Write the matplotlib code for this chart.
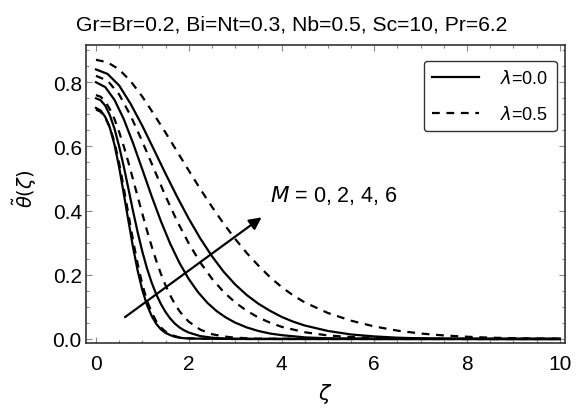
import numpy as np
import matplotlib
matplotlib.use("Agg")
import matplotlib.pyplot as plt
from matplotlib.ticker import MultipleLocator

plt.rcParams["font.family"] = ["Liberation Sans", "DejaVu Sans"]
plt.rcParams["mathtext.fontset"] = "dejavusans"

# ── data ──────────────────────────────────────────────────────────────────
# M = 0 (solid and dashed almost on top of each other)
x_m0 = [0, 0.1, 0.2, 0.3, 0.4, 0.5, 0.6, 0.7, 0.8, 0.9, 1.0, 1.1, 1.2, 1.3,
        1.4, 1.5, 1.6, 1.7, 1.8, 1.9, 2.0, 2.5, 3.0, 10.0]
y_s0 = [0.72, 0.712, 0.692, 0.658, 0.605, 0.535, 0.452, 0.368, 0.285, 0.212,
        0.152, 0.106, 0.072, 0.047, 0.030, 0.019, 0.012, 0.007, 0.004, 0.0025,
        0.0015, 0.0005, 0.0, 0.0]
y_d0 = [0.715, 0.708, 0.690, 0.660, 0.613, 0.548, 0.47, 0.388, 0.307, 0.233,
        0.17, 0.12, 0.083, 0.055, 0.036, 0.023, 0.014, 0.009, 0.005, 0.003,
        0.002, 0.0006, 0.0, 0.0]

# M = 2
x_m2 = [0, 0.1, 0.2, 0.3, 0.4, 0.5, 0.6, 0.7, 0.8, 0.9, 1.0, 1.1, 1.2, 1.3,
        1.4, 1.5, 1.6, 1.7, 1.8, 1.9, 2.0, 2.25, 2.5, 2.75, 3.0, 3.5, 10.0]
y_s2 = [0.75, 0.744, 0.727, 0.697, 0.655, 0.60, 0.537, 0.468, 0.398, 0.332,
        0.272, 0.22, 0.176, 0.139, 0.109, 0.084, 0.064, 0.048, 0.036, 0.027,
        0.02, 0.009, 0.004, 0.0015, 0.0005, 0.0, 0.0]
y_d2 = [0.76, 0.755, 0.74, 0.716, 0.685, 0.645, 0.60, 0.55, 0.497, 0.443,
        0.39, 0.338, 0.289, 0.244, 0.203, 0.167, 0.136, 0.109, 0.087, 0.069,
        0.054, 0.029, 0.015, 0.008, 0.004, 0.001, 0.0]

# M = 4
x_s4 = [0, 0.2, 0.4, 0.6, 0.8, 1.0, 1.2, 1.4, 1.6, 1.8, 2.0, 2.2, 2.4, 2.6,
        2.8, 3.0, 3.25, 3.5, 3.75, 4.0, 4.5, 5.0, 5.5, 6.0, 10.0]
y_s4 = [0.80, 0.785, 0.745, 0.685, 0.61, 0.528, 0.445, 0.367, 0.297, 0.237,
        0.187, 0.146, 0.113, 0.087, 0.067, 0.051, 0.036, 0.025, 0.017, 0.012,
        0.005, 0.002, 0.001, 0.0, 0.0]
x_d4 = [0, 0.25, 0.5, 0.75, 1.0, 1.25, 1.5, 1.75, 2.0, 2.25, 2.5, 2.75, 3.0,
        3.25, 3.5, 3.75, 4.0, 4.5, 5.0, 5.5, 6.0, 7.0, 8.0, 10.0]
y_d4 = [0.82, 0.805, 0.762, 0.695, 0.615, 0.53, 0.445, 0.367, 0.298, 0.238,
        0.188, 0.147, 0.114, 0.088, 0.067, 0.051, 0.038, 0.021, 0.011, 0.006,
        0.003, 0.001, 0.0, 0.0]

# M = 6
x_m6 = [0, 0.25, 0.5, 0.75, 1.0, 1.25, 1.5, 1.75, 2.0, 2.25, 2.5, 2.75, 3.0,
        3.25, 3.5, 3.75, 4.0, 4.25, 4.5, 5.0, 5.5, 6.0, 6.5, 7.0, 7.5, 8.0,
        8.5, 9.0, 9.5, 10.0]
y_s6 = [0.84, 0.826, 0.79, 0.732, 0.664, 0.59, 0.515, 0.443, 0.375, 0.313,
        0.258, 0.21, 0.17, 0.137, 0.11, 0.088, 0.069, 0.054, 0.042, 0.025,
        0.014, 0.008, 0.004, 0.002, 0.001, 0.0005, 0.0, 0.0, 0.0, 0.0]
y_d6 = [0.87, 0.862, 0.84, 0.803, 0.755, 0.70, 0.643, 0.584, 0.525, 0.467,
        0.412, 0.36, 0.312, 0.268, 0.229, 0.193, 0.162, 0.136, 0.114, 0.081,
        0.057, 0.039, 0.026, 0.017, 0.011, 0.007, 0.004, 0.0025, 0.0015,
        0.001]

arrow_tail = (0.625, 0.068)
arrow_head = (3.57, 0.379)

title = "Gr=Br=0.2, Bi=Nt=0.3, Nb=0.5, Sc=10, Pr=6.2"

# ── figure ────────────────────────────────────────────────────────────────
fig = plt.figure(figsize=(5.83, 4.10), dpi=100)
ax = fig.add_axes([0.1475, 0.161, 0.8215, 0.7275])

lw = 1.6
dash = (3.5, 3.0)
ax.plot(x_m0, y_s0, color="black", lw=lw)
ax.plot(x_m0, y_d0, color="black", lw=lw, dashes=dash)
ax.plot(x_m2, y_s2, color="black", lw=lw)
ax.plot(x_m2, y_d2, color="black", lw=lw, dashes=dash)
ax.plot(x_s4, y_s4, color="black", lw=lw)
ax.plot(x_d4, y_d4, color="black", lw=lw, dashes=dash)
ax.plot(x_m6, y_s6, color="black", lw=lw, label=r"$\lambda$=0.0")
ax.plot(x_m6, y_d6, color="black", lw=lw, dashes=dash, label=r"$\lambda$=0.5")

ax.annotate("", xy=arrow_head, xytext=arrow_tail,
            arrowprops=dict(arrowstyle="-|>", color="black", lw=1.6,
                            mutation_scale=18, shrinkA=0, shrinkB=0))
ax.text(3.75, 0.45, r"$M$ = 0, 2, 4, 6", fontsize=15.5, va="center", ha="left")

ax.set_xlim(-0.215, 10.11)
ax.set_ylim(-0.0125, 0.917)
ax.xaxis.set_major_locator(MultipleLocator(2))
ax.xaxis.set_minor_locator(MultipleLocator(0.5))
ax.yaxis.set_minor_locator(MultipleLocator(0.05))
ax.set_yticks([0.0, 0.2, 0.4, 0.6, 0.8])
ax.set_yticklabels(["0.0", "0.2", "0.4", "0.6", "0.8"])
ax.tick_params(which="both", direction="in", top=True, right=True,
               color="#888888", labelsize=15, width=0.8)
ax.tick_params(which="major", length=4)
ax.tick_params(which="minor", length=2.5)
ax.tick_params(axis="x", pad=8)
ax.tick_params(axis="y", pad=3)
for sp in ax.spines.values():
    sp.set_color("#333333")
    sp.set_linewidth(1.2)

# title is centred on the figure, not on the axes
fig.text(0.5, 0.94, title, fontsize=15.2, ha="center", va="center")
ax.set_xlabel(r"$\zeta$", fontsize=15, labelpad=6)
ax.set_ylabel(r"$\tilde{\theta}(\zeta)$", fontsize=14)
ax.yaxis.set_label_coords(-0.098, 0.52)

leg = ax.legend(loc="upper right", bbox_to_anchor=(0.983, 0.946),
                borderaxespad=0, fontsize=13, handlelength=2.6,
                handletextpad=1.2, borderpad=0.45, labelspacing=1.0,
                frameon=True, fancybox=True, edgecolor="black")
leg.get_frame().set_linewidth(1.0)

fig.savefig("out.png", dpi=100)
